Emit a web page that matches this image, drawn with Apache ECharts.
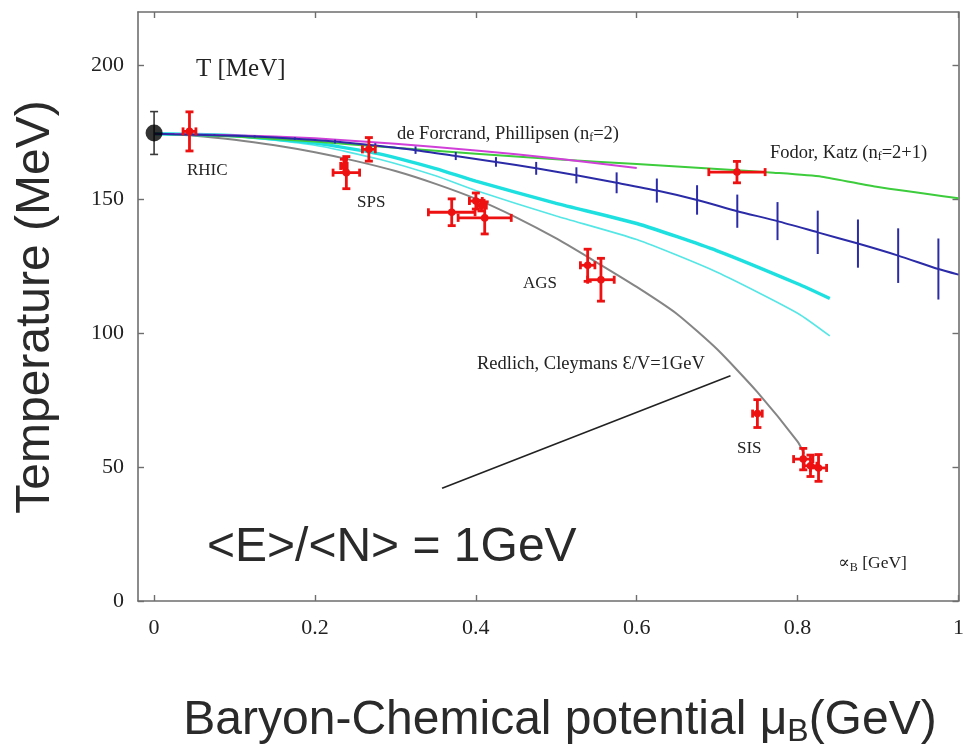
<!DOCTYPE html>
<html>
<head>
<meta charset="utf-8">
<script src="https://cdn.jsdelivr.net/npm/echarts@6/dist/echarts.min.js"></script>
<style>
  html, body { margin: 0; padding: 0; background: #fff; }
  #chart { width: 967px; height: 748px; }
</style>
</head>
<body>
<div id="chart"></div>
<script>
// Tick positions on the frame
const xTicks = [0, 0.2, 0.4, 0.6, 0.8, 1];
const yTicks = [0, 50, 100, 150, 200];

// Redlich–Cleymans freeze-out curve (E/N = 1 GeV)
const freezeX = [0, 0.05, 0.1, 0.15, 0.2, 0.25, 0.3, 0.35, 0.4, 0.45, 0.5, 0.55, 0.6, 0.65, 0.7, 0.75, 0.8, 0.808];
const freezeT = [174.5, 173.8, 172.3, 170.2, 167.6, 164.4, 160.6, 155.8, 150.2, 143.3, 135.4, 126.5, 117.3, 107.2, 94, 78, 59.5, 55];

// Cyan transition lines (upper thick, lower thin)
const cyanX = [0, 0.1, 0.2, 0.28, 0.35, 0.4, 0.5, 0.6, 0.7, 0.8, 0.84];
const cyanUpperT = [174.5, 173.8, 171, 167, 161.5, 156.8, 148.5, 141, 130.8, 118.5, 113];
const cyanLowerT = [174.5, 173.6, 170.2, 165, 158.8, 153.3, 143.8, 135, 122.8, 107.5, 99];

// Fodor, Katz (nf = 2+1)
const fodorX = [0, 0.1, 0.2, 0.3, 0.4, 0.5, 0.6, 0.7, 0.77, 0.83, 0.9, 1.0];
const fodorT = [174.5, 173.5, 171.6, 169.3, 167.1, 165, 163.2, 161.4, 160, 158.5, 154.6, 150.4];

// de Forcrand, Phillipsen (nf = 2)
const forcrandX = [0, 0.1, 0.2, 0.3, 0.4, 0.5, 0.6];
const forcrandT = [174.5, 174, 172.8, 170.8, 168.3, 165.3, 161.7];

// Lattice band with vertical uncertainties
const latticeX = [0, 0.025, 0.075, 0.125, 0.175, 0.225, 0.275, 0.325, 0.375, 0.425, 0.475,
                  0.525, 0.575, 0.625, 0.675, 0.725, 0.775, 0.825, 0.875, 0.925, 0.975, 1.0];
const latticeT = [174.5, 174.3, 174, 173.5, 172.7, 171.6, 170.1, 168.4, 166.2, 164, 161.6,
                  159, 156.2, 153.3, 149.8, 145.6, 141.9, 137.7, 133.5, 129, 124, 121.9];
const latticeErr = [0, 0.2, 0.3, 0.4, 0.5, 0.7, 0.9, 1.4, 1.5, 1.8, 2.4,
                    3, 3.9, 4.5, 5.5, 6.2, 7.1, 8.1, 9, 10.2, 11.4, 0];

// Chemical freeze-out points (RHIC, SPS, AGS, SIS) and the Fodor-Katz endpoint
const pointX    = [0.044, 0.267, 0.239, 0.236, 0.370, 0.400, 0.407, 0.411, 0.539, 0.5555, 0.7246, 0.750, 0.807, 0.816, 0.826];
const pointT    = [175.4, 168.7, 160.0, 162.5, 145.2, 149.4, 147.7, 143.1, 125.4, 120.0, 160.2, 70.0, 53.0, 50.5, 49.7];
const pointXErr = [0.008, 0.008, 0.0165, 0.004, 0.029, 0.008, 0.006, 0.033, 0.009, 0.0165, 0.035, 0.006, 0.012, 0.008, 0.010];
const pointTErr = [7.3, 4.4, 6.0, 2.5, 5.0, 3.0, 2.0, 6.0, 6.0, 8.0, 4.0, 5.2, 4.0, 4.0, 5.0];

// Lattice point at zero chemical potential
const zeroX = [0];
const zeroT = [174.8];
const zeroTErr = [8];

// Pointer from the <E>/<N> caption to the freeze-out curve
const pointerX = [0.358, 0.7165];
const pointerT = [42.1, 84.1];

const zip = (a, b) => a.map((v, i) => [v, b[i]]);

function errorBars(opts) {
  return function (params, api) {
    const x = api.value(0), y = api.value(1), dx = api.value(2), dy = api.value(3);
    const c = api.coord([x, y]);
    const st = { stroke: opts.color, lineWidth: opts.width, fill: null };
    const kids = [];
    if (dy > 0) {
      const t = api.coord([x, y + dy])[1], b = api.coord([x, y - dy])[1];
      kids.push({ type: 'line', shape: { x1: c[0], y1: t, x2: c[0], y2: b }, style: st });
      if (opts.cap) {
        kids.push({ type: 'line', shape: { x1: c[0] - opts.cap, y1: t, x2: c[0] + opts.cap, y2: t }, style: st });
        kids.push({ type: 'line', shape: { x1: c[0] - opts.cap, y1: b, x2: c[0] + opts.cap, y2: b }, style: st });
      }
    }
    if (dx > 0) {
      const l = api.coord([x - dx, y])[0], r = api.coord([x + dx, y])[0];
      kids.push({ type: 'line', shape: { x1: l, y1: c[1], x2: r, y2: c[1] }, style: st });
      if (opts.cap) {
        kids.push({ type: 'line', shape: { x1: l, y1: c[1] - opts.cap, x2: l, y2: c[1] + opts.cap }, style: st });
        kids.push({ type: 'line', shape: { x1: r, y1: c[1] - opts.cap, x2: r, y2: c[1] + opts.cap }, style: st });
      }
    }
    if (opts.dot) {
      kids.push({ type: 'circle', shape: { cx: c[0], cy: c[1], r: opts.dot }, style: { fill: opts.color } });
    }
    return { type: 'group', children: kids };
  };
}

function curve(xs, ys, color, width, z) {
  return {
    type: 'line', data: zip(xs, ys), symbol: 'none', smooth: 0.2,
    lineStyle: { color: color, width: width }, z: z, silent: true
  };
}

const frameColor = '#6e6e6e';
const serif = '"Liberation Serif", "DejaVu Serif", serif';
const sans = '"Liberation Sans", Arial, sans-serif';

function frameAxis(kind, pos, ticks, showLabels, extent) {
  return {
    type: 'value', position: pos, min: extent[0], max: extent[1],
    axisLine: { show: true, onZero: false, lineStyle: { color: frameColor, width: 1.6 } },
    axisTick: { show: true, inside: true, length: 6, customValues: ticks, lineStyle: { color: frameColor, width: 1.4 } },
    axisLabel: {
      show: showLabels, customValues: ticks, color: '#222', fontFamily: serif, fontSize: 22,
      margin: kind === 'x' ? 16 : 14
    },
    splitLine: { show: false }
  };
}

function label(text, x, y, size, extra) {
  return {
    type: 'text', x: x, y: y, silent: true, z: 50,
    style: Object.assign({
      text: text, fill: '#222', font: size + 'px ' + serif,
      align: 'left', verticalAlign: 'middle', textAlign: 'left', textVerticalAlign: 'middle'
    }, extra || {})
  };
}

const subStyle = (size, drop, family) => ({ fontSize: size, fontFamily: family, padding: [drop, 0, 0, 0] });

const chart = echarts.init(document.getElementById('chart'), null, { renderer: 'canvas' });

chart.setOption({
  animation: false,
  backgroundColor: '#ffffff',
  grid: { left: 138, right: 5, top: 12, bottom: 147, containLabel: false },
  xAxis: [
    frameAxis('x', 'bottom', xTicks, true, [-0.02, 1]),
    frameAxis('x', 'top', xTicks, false, [-0.02, 1])
  ],
  yAxis: [
    frameAxis('y', 'left', yTicks, true, [0, 220]),
    frameAxis('y', 'right', yTicks, false, [0, 220])
  ],
  series: [
    curve(freezeX, freezeT, '#858585', 2, 2),
    curve(cyanX, cyanLowerT, '#55e6e6', 1.6, 3),
    curve(cyanX, cyanUpperT, '#1ee0e0', 3.4, 3),
    curve(fodorX, fodorT, '#3ccc3c', 2, 4),
    curve(forcrandX, forcrandT, '#d040d8', 2, 5),
    curve(latticeX, latticeT, '#2b2ba8', 2, 6),
    {
      type: 'custom', silent: true, z: 6,
      data: latticeX.map((x, i) => [x, latticeT[i], 0, latticeErr[i]]),
      renderItem: errorBars({ color: '#2b2ba8', width: 2 })
    },
    {
      type: 'line', data: zip(pointerX, pointerT), symbol: 'none', silent: true, z: 7,
      lineStyle: { color: '#222', width: 1.6 }
    },
    {
      type: 'custom', silent: true, z: 8,
      data: pointX.map((x, i) => [x, pointT[i], pointXErr[i], pointTErr[i]]),
      renderItem: errorBars({ color: '#ee1111', width: 2.8, cap: 4, dot: 3.8 })
    },
    {
      type: 'custom', silent: true, z: 9,
      data: zeroX.map((x, i) => [x, zeroT[i], 0, zeroTErr[i]]),
      renderItem: errorBars({ color: '#3a3a3a', width: 1.6, cap: 4 })
    },
    {
      type: 'scatter', data: zip(zeroX, zeroT), symbol: 'circle', symbolSize: 17, silent: true, z: 10,
      itemStyle: { color: '#000' }
    }
  ],
  graphic: [
    label('T [MeV]', 196, 69.5, 25),
    label('RHIC', 187, 171, 17),
    label('SPS', 357, 202.5, 17),
    label('AGS', 523, 284, 17),
    label('SIS', 737, 449, 17),
    label('de Forcrand, Phillipsen (n{s|f}=2)', 397, 134, 18.5, { rich: { s: subStyle(12, 7, serif) } }),
    label('Fodor, Katz (n{s|f}=2+1)', 770, 153.5, 18.5, { rich: { s: subStyle(12, 7, serif) } }),
    label('Redlich, Cleymans Ɛ/V=1GeV', 477, 364.5, 18.5),
    label('∝{s|B} [GeV]', 838, 563, 17.5, { rich: { s: subStyle(12, 9, serif) } }),
    label('<E>/<N> = 1GeV', 207, 548, 48, { font: '48px ' + sans, fill: '#2a2a2a' }),
    {
      type: 'text', x: 36, y: 307, rotation: Math.PI / 2, silent: true, z: 50,
      style: {
        text: 'Temperature (MeV)', fill: '#2a2a2a', font: '48px ' + sans,
        align: 'center', verticalAlign: 'middle', textAlign: 'center', textVerticalAlign: 'middle'
      }
    },
    {
      type: 'text', x: 560, y: 721, silent: true, z: 50,
      style: {
        text: 'Baryon-Chemical potential μ{s|B}(GeV)', fill: '#2a2a2a', font: '48px ' + sans,
        align: 'center', verticalAlign: 'middle', textAlign: 'center', textVerticalAlign: 'middle',
        rich: { s: subStyle(32, 22, sans) }
      }
    }
  ]
});
</script>
</body>
</html>
